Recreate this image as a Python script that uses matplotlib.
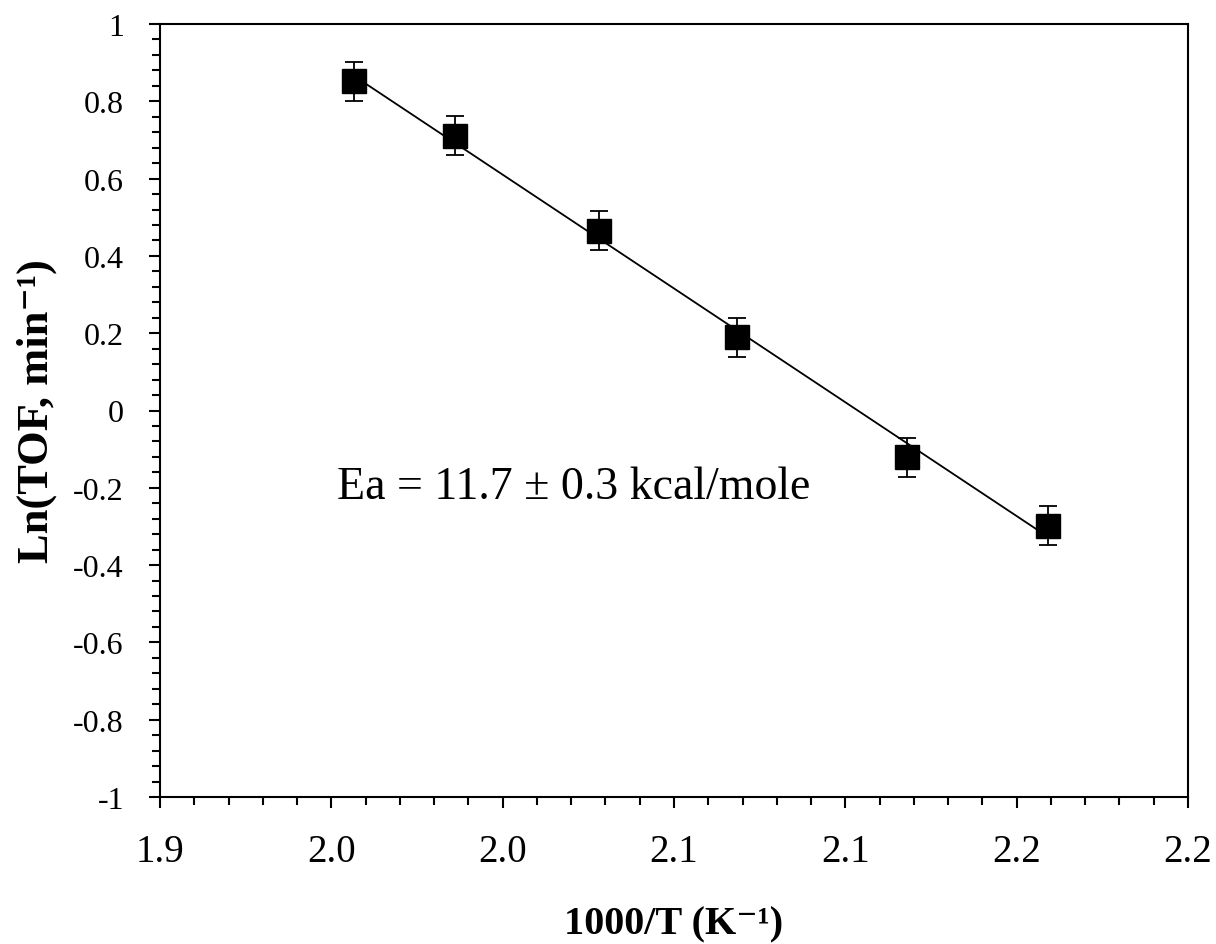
import numpy as np
import matplotlib
matplotlib.use("Agg")
import matplotlib.pyplot as plt
from matplotlib.ticker import MultipleLocator

# data
inv_T = [1.9566, 1.9861, 2.0281, 2.0685, 2.1179, 2.1592]
ln_tof = [0.852, 0.711, 0.465, 0.189, -0.121, -0.298]
ln_tof_err = [0.05, 0.05, 0.05, 0.05, 0.05, 0.05]

x_ticks = [1.90, 1.95, 2.00, 2.05, 2.10, 2.15, 2.20]
x_tick_labels = ['1.9', '2.0', '2.0', '2.1', '2.1', '2.2', '2.2']
y_ticks = [1, 0.8, 0.6, 0.4, 0.2, 0, -0.2, -0.4, -0.6, -0.8, -1]
y_tick_labels = ['1', '0.8', '0.6', '0.4', '0.2', '0', '-0.2', '-0.4', '-0.6', '-0.8', '-1']

plt.rcParams['font.family'] = ['Liberation Serif', 'DejaVu Serif']

fig = plt.figure(figsize=(12.16, 9.45), dpi=100)
ax = fig.add_axes([160 / 1216, 1 - 798 / 945, 1028 / 1216, 773 / 945])

# linear fit line
slope, icpt = np.polyfit(inv_T, ln_tof, 1)
xs = np.array([min(inv_T), max(inv_T)])
ax.plot(xs, slope * xs + icpt, color='black', lw=1.3, zorder=2)

ax.errorbar(inv_T, ln_tof, yerr=ln_tof_err, fmt='s', color='black',
            markersize=17.5, ecolor='black', elinewidth=1.3, capsize=6.5,
            capthick=1.3, zorder=3)

ax.set_xlim(1.90, 2.20)
ax.set_ylim(-1, 1)
ax.set_xticks(x_ticks)
ax.set_xticklabels(x_tick_labels, fontsize=28)
ax.set_yticks(y_ticks)
ax.set_yticklabels(y_tick_labels, fontsize=23)
ax.xaxis.set_minor_locator(MultipleLocator(0.01))
ax.yaxis.set_minor_locator(MultipleLocator(0.04))

ax.tick_params(which='major', direction='out', length=8, width=1.5)
ax.tick_params(which='minor', direction='out', length=5.5, width=1.5)
ax.tick_params(axis='x', which='major', pad=18)
ax.tick_params(axis='y', which='major', pad=18)
for s in ax.spines.values():
    s.set_linewidth(1.5)

ax.set_xlabel('1000/T (K\u207b\u00b9)', fontsize=29, fontweight='bold')
ax.set_ylabel('Ln(TOF, min\u207b\u00b9)', fontsize=32, fontweight='bold')
ax.xaxis.set_label_coords(0.5, -0.14)
ax.yaxis.set_label_coords(-0.10, 0.5)

ax.text(1.9517, -0.226, 'Ea = 11.7 \u00b1 0.3 kcal/mole', fontsize=33,
        ha='left', va='baseline')

fig.savefig('out.png', dpi=100)
